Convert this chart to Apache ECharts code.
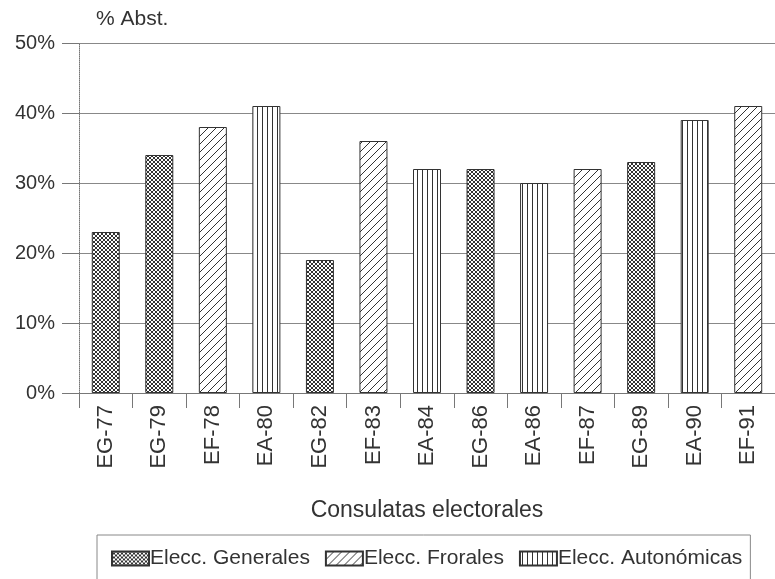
<!DOCTYPE html>
<html>
<head>
<meta charset="utf-8">
<script src="https://cdn.jsdelivr.net/npm/echarts@6/dist/echarts.min.js"></script>
<style>
html,body{margin:0;padding:0;background:#fff;}
#chart{width:775px;height:579px;}
</style>
</head>
<body>
<div id="chart"></div>
<script>
// consultas, % abstencion, tipo de eleccion
let categories = ['EG-77','EG-79','EF-78','EA-80','EG-82','EF-83','EA-84','EG-86','EA-86','EF-87','EG-89','EA-90','EF-91'];
let abstencion = [23, 34, 38, 41, 19, 36, 32, 32, 30, 32, 33, 39, 41];
let tipo = ['G','G','F','A','G','F','A','G','A','F','G','A','F'];
let seriesNames = {G: 'Elecc. Generales', F: 'Elecc. Frorales', A: 'Elecc. Autonómicas'};
let yTicks = [0, 10, 20, 30, 40, 50];

let font = '"Liberation Sans", Arial, sans-serif';

function makePattern(kind){
    let c = document.createElement('canvas');
    let w = kind == 'G' ? 4 : (kind == 'F' ? 8 : 5);
    let h = kind == 'A' ? 4 : w;
    c.width = w; c.height = h;
    let ctx = c.getContext('2d');
    ctx.fillStyle = '#fff';
    ctx.fillRect(0, 0, w, h);
    ctx.strokeStyle = '#333';
    ctx.lineWidth = 1;
    ctx.beginPath();
    if (kind == 'G') {
        ctx.moveTo(0, 0); ctx.lineTo(w, h);
        ctx.moveTo(0, h); ctx.lineTo(w, 0);
    } else if (kind == 'F') {
        ctx.moveTo(-1, h + 1); ctx.lineTo(w + 1, -1);
        ctx.moveTo(-1, 1); ctx.lineTo(1, -1);
        ctx.moveTo(w - 1, h + 1); ctx.lineTo(w + 1, h - 1);
    } else {
        ctx.moveTo(2.5, 0); ctx.lineTo(2.5, h);
    }
    ctx.stroke();
    return {image: c, repeat: 'repeat'};
}

let series = ['G', 'F', 'A'].map(function (k) {
    return {
        name: seriesNames[k],
        type: 'bar',
        stack: 'all',
        barWidth: 28,
        itemStyle: {color: makePattern(k), borderColor: '#333', borderWidth: 1},
        data: abstencion.map(function (v, i) { return tipo[i] == k ? v : '-'; })
    };
});

let chart = echarts.init(document.getElementById('chart'));
chart.setOption({
    animation: false,
    textStyle: {fontFamily: font, color: '#333'},
    title: {
        text: '% Abst.',
        left: 91, top: 4,
        textStyle: {fontSize: 21, fontWeight: 'normal', color: '#333', fontFamily: font}
    },
    grid: {left: 79, right: -6, top: 43, bottom: 186, containLabel: false},
    legend: {
        left: 97, top: 535,
        width: 680,
        padding: [13, 8, 30, 14],
        borderColor: '#888', borderWidth: 1,
        icon: 'rect',
        itemWidth: 37, itemHeight: 14, itemGap: 15,
        textStyle: {fontSize: 21, color: '#333', fontFamily: font, padding: [0, 0, 0, -4]},
        data: series.map(function (s) { return s.name; })
    },
    xAxis: {
        type: 'category',
        data: categories,
        name: 'Consulatas electorales',
        nameLocation: 'middle',
        nameGap: 106,
        nameTextStyle: {fontSize: 23, color: '#333', fontFamily: font},
        axisLine: {lineStyle: {color: '#777'}},
        axisTick: {show: true, length: 15, interval: 0, lineStyle: {color: '#777'}},
        axisLabel: {rotate: 90, fontSize: 22, margin: 12, color: '#333', interval: 0, fontFamily: font}
    },
    yAxis: {
        type: 'value',
        min: yTicks[0], max: yTicks[yTicks.length - 1], interval: 10,
        axisLine: {show: true, lineStyle: {color: '#777', type: 'dotted'}},
        axisTick: {show: true, length: 17, lineStyle: {color: '#777'}},
        axisLabel: {formatter: '{value}%', fontSize: 20, color: '#333', margin: 24, fontFamily: font},
        splitLine: {lineStyle: {color: '#888', width: 1}}
    },
    series: series
});
</script>
</body>
</html>
